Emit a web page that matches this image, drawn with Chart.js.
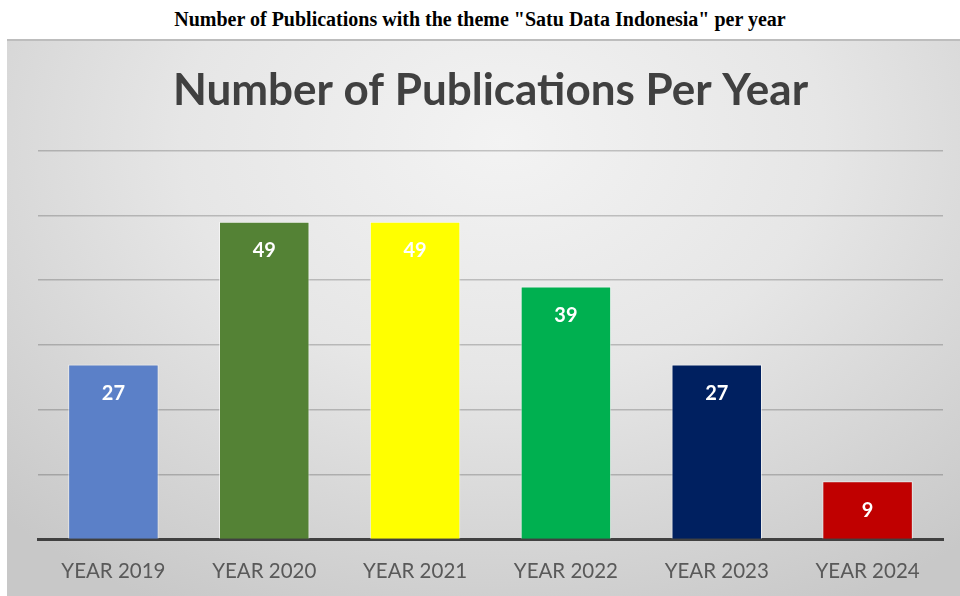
<!DOCTYPE html>
<html>
<head>
<meta charset="utf-8">
<script src="https://cdn.jsdelivr.net/npm/chart.js@4"></script>
<style>
  body { margin: 0; width: 960px; height: 596px; background: #fff; position: relative; overflow: hidden; }
  #heading {
    position: absolute; left: 0; top: 8px; width: 960px; text-align: center;
    font-family: "Liberation Serif", "Times New Roman", serif; font-weight: bold; font-size: 20px; color: #000;
  }
  #panel {
    position: absolute; left: 7px; top: 39px; width: 953px; height: 557px;
    border-top: 2px solid #bdbdbd; box-sizing: border-box;
    background: radial-gradient(ellipse 75% 95% at 52% 18%, #f3f3f3 0%, #e6e6e6 45%, #c8c8c8 100%);
  }
</style>
</head>
<body>
<div id="heading">Number of Publications with the theme "Satu Data Indonesia" per year</div>
<div id="panel"><canvas id="pubChart" width="953" height="555"></canvas></div>
<script>
// Data
const years = ['YEAR 2019', 'YEAR 2020', 'YEAR 2021', 'YEAR 2022', 'YEAR 2023', 'YEAR 2024'];
const publications = [27, 49, 49, 39, 27, 9];
const barColors = ['#5b80c8', '#548235', '#ffff00', '#00b050', '#002060', '#c00000'];
const yMax = 60;
const yStep = 10;

// Value labels inside the top of each bar
const valueLabels = {
    id: 'valueLabels',
    afterDatasetsDraw(chart) {
        const ctx = chart.ctx;
        const meta = chart.getDatasetMeta(0);
        ctx.save();
        ctx.font = 'bold 20px Lato, "Open Sans", sans-serif';
        ctx.fillStyle = '#ffffff';
        ctx.textAlign = 'center';
        ctx.textBaseline = 'middle';
        meta.data.forEach((bar, i) => {
            ctx.fillText(String(publications[i]), bar.x, bar.y + 29);
        });
        ctx.restore();
    }
};

new Chart(document.getElementById('pubChart').getContext('2d'), {
    type: 'bar',
    data: {
        labels: years,
        datasets: [{
            data: publications,
            backgroundColor: barColors,
            borderColor: 'rgba(255,255,255,0.55)',
            borderWidth: 1,
            categoryPercentage: 0.6,
            barPercentage: 1
        }]
    },
    options: {
        responsive: false,
        animation: false,
        layout: {
            padding: { left: 31, right: 17, top: 0, bottom: 0 }
        },
        plugins: {
            legend: { display: false },
            tooltip: { enabled: false },
            title: {
                display: true,
                text: 'Number of Publications Per Year',
                color: '#404040',
                font: { family: 'Lato, "Open Sans", sans-serif', size: 44, weight: 'bold', lineHeight: 1.1 },
                padding: { top: 26, bottom: 35 }
            }
        },
        scales: {
            x: {
                grid: { display: false },
                border: { display: true, color: '#404040', width: 3 },
                ticks: {
                    color: '#595959',
                    font: { family: 'Lato, "Open Sans", sans-serif', size: 20.5, lineHeight: 1 },
                    padding: 14
                }
            },
            y: {
                min: 0,
                max: yMax,
                ticks: { stepSize: yStep, display: false },
                border: { display: false },
                grid: {
                    color: 'rgba(0,0,0,0.2)',
                    lineWidth: 1.5,
                    drawTicks: false
                }
            }
        }
    },
    plugins: [valueLabels]
});
</script>
</body>
</html>
